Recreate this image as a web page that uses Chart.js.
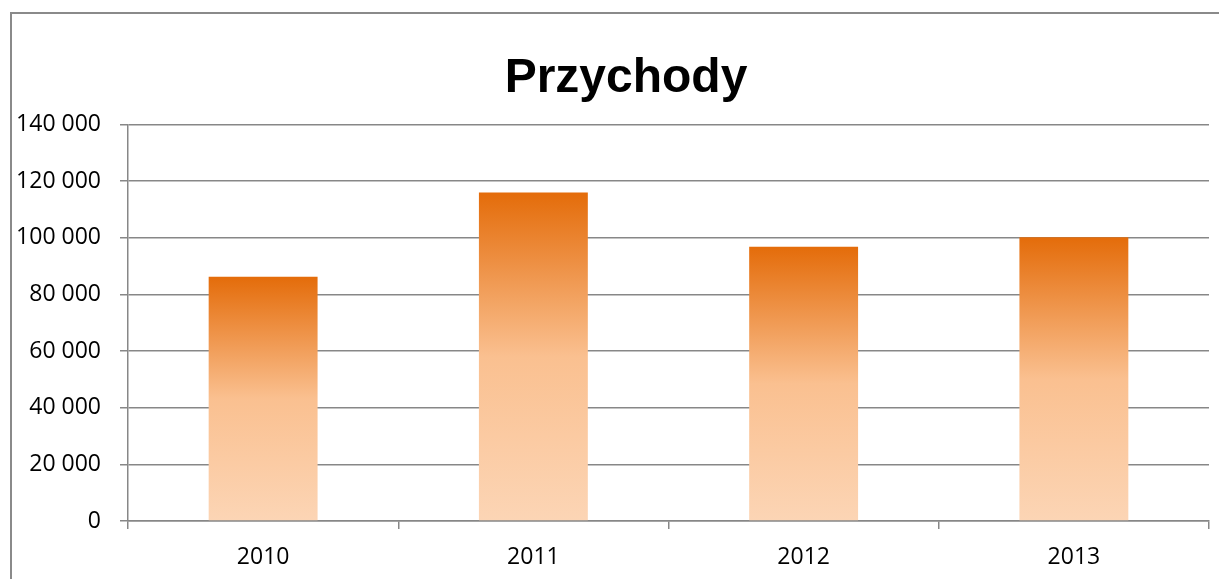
<!DOCTYPE html>
<html>
<head>
<meta charset="utf-8">
<script src="https://cdn.jsdelivr.net/npm/chart.js@4/dist/chart.umd.min.js"></script>
<style>
  html, body { margin: 0; padding: 0; background: #fff; overflow: hidden; }
  #frame { position: absolute; left: 10px; top: 12px; width: 1240px; height: 600px; border: 2px solid #8a8a8a; }
  #wrap { position: absolute; left: 0; top: 0; width: 1252px; height: 579px; }
</style>
</head>
<body>
<div id="frame"></div>
<div id="wrap"><canvas id="chart"></canvas></div>
<script>
const years = ["2010", "2011", "2012", "2013"];
const revenue = [86300, 116000, 96900, 100200];
const yMax = 140000, yStep = 20000;

const gridGray = "#878787";

// Excel-like vertical gradient, computed per bar
function barGradient(ctx) {
  const chart = ctx.chart;
  const area = chart.chartArea;
  if (!area) return "#F79646";
  const y = chart.scales.y;
  const top = y.getPixelForValue(ctx.raw);
  const bottom = y.getPixelForValue(0);
  const g = chart.ctx.createLinearGradient(0, top, 0, bottom);
  g.addColorStop(0, "#E46C0A");
  g.addColorStop(0.5, "#FAC090");
  g.addColorStop(1, "#FCD5B5");
  return g;
}

function fmt(v) {
  return String(v).replace(/\B(?=(\d{3})+(?!\d))/g, " ");
}

// title is centred on the whole frame, not on the padded box
const titleSpan = {
  id: "titleSpan",
  afterLayout(chart) {
    if (chart.titleBlock) {
      chart.titleBlock.left = 0;
      chart.titleBlock.right = chart.width;
    }
  }
};

new Chart(document.getElementById("chart"), {
  type: "bar",
  data: {
    labels: years,
    datasets: [{
      label: "Przychody",
      data: revenue,
      backgroundColor: barGradient,
      borderWidth: 0,
      categoryPercentage: 1,
      barPercentage: 0.403
    }]
  },
  plugins: [titleSpan],
  options: {
    responsive: true,
    maintainAspectRatio: false,
    animation: false,
    layout: { padding: { left: 0, right: 43, top: 0, bottom: 0 } },
    plugins: {
      legend: { display: false },
      tooltip: { enabled: false },
      title: {
        display: true,
        text: "Przychody",
        color: "#000",
        font: { family: "'Liberation Sans', Arial, sans-serif", size: 48, weight: "bold", lineHeight: 1.2 },
        padding: { top: 50, bottom: 17 }
      }
    },
    scales: {
      x: {
        afterFit: function (axis) { axis.height = 58; },
        grid: { display: true, drawOnChartArea: false, drawTicks: true, tickLength: 8, color: gridGray, lineWidth: 1.5, offset: true },
        border: { display: true, color: gridGray, width: 1.5 },
        ticks: { color: "#000", padding: 15, font: { family: "'Open Sans', sans-serif", size: 23 } }
      },
      y: {
        min: 0,
        max: yMax,
        afterFit: function (axis) { axis.width = 128; },
        grid: { color: gridGray, lineWidth: 1.5, tickLength: 8 },
        border: { display: true, color: gridGray, width: 1.5 },
        ticks: {
          stepSize: yStep,
          color: "#000",
          padding: 19,
          font: { family: "'Open Sans', sans-serif", size: 23 },
          callback: function (v) { return fmt(v); }
        }
      }
    }
  }
});
</script>
</body>
</html>
